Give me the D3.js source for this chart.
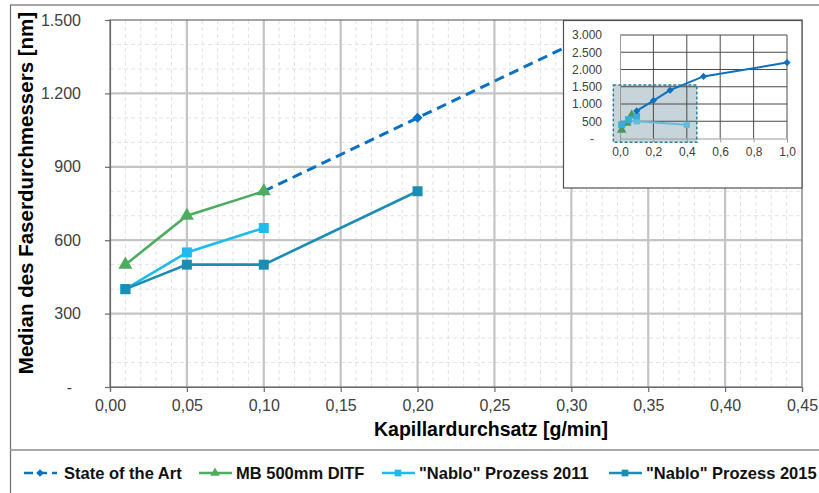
<!DOCTYPE html>
<html>
<head>
<meta charset="utf-8">
<script src="https://cdn.jsdelivr.net/npm/d3@7"></script>
<style>
  body { margin: 0; background: #fff; }
  svg { display: block; font-family: "Liberation Sans", Arial, sans-serif; }
</style>
</head>
<body>
<div id="chart"></div>
<script>
// Kapillardurchsatz [g/min] vs. median fibre diameter [nm]
var sotaX = [0.10, 0.20, 0.30, 0.50, 1.00];
var sotaY = [800, 1100, 1400, 1800, 2200];
var ditfX = [0.01, 0.05, 0.10];
var ditfY = [500, 700, 800];
var nablo11X = [0.01, 0.05, 0.10];
var nablo11Y = [400, 550, 650];
var nablo15X = [0.01, 0.05, 0.10, 0.20];
var nablo15Y = [400, 500, 500, 800];

// small overview plot (older data set)
var insetDitfX = [0.01, 0.04, 0.07];
var insetDitfY = [250, 450, 680];
var insetNablo15X = [0.01, 0.05, 0.10, 0.40];
var insetNablo15Y = [400, 500, 500, 400];

var xTicks = [0, 0.05, 0.10, 0.15, 0.20, 0.25, 0.30, 0.35, 0.40, 0.45];
var yTicks = [0, 300, 600, 900, 1200, 1500];
var insetXTicks = [0, 0.2, 0.4, 0.6, 0.8, 1.0];
var insetYTicks = [0, 500, 1000, 1500, 2000, 2500, 3000];
var zoomWindowX = [-0.04, 0.46];
var zoomWindowY = [-110, 1550];

var legendNames = ["State of the Art", "MB 500mm DITF", "\"Nablo\" Prozess 2011", "\"Nablo\" Prozess 2015"];
var legendPos = [40, 215, 398, 625];

var colors = {
    sota: "#0a70c2",
    ditf: "#4dac5e",
    nablo11: "#1fbbec",
    nablo15: "#1b8db3"
};

var de = d3.formatLocale({ decimal: ",", thousands: ".", grouping: [3], currency: ["", "\u20ac"] });
var fmtX = de.format(".2f");
var fmtY = function (d) { return d === 0 ? "-" : de.format(",")(d); };

var width = 819, height = 493;
var plot = { left: 110, right: 802, top: 20, bottom: 387 };

var svg = d3.select("#chart").append("svg")
    .attr("width", width)
    .attr("height", height);

// outer frame
svg.append("line").attr("x1", 10).attr("x2", width).attr("y1", 5).attr("y2", 5)
    .attr("stroke", "#a6a6a6").attr("stroke-width", 2);
svg.append("line").attr("x1", 10.5).attr("x2", 10.5).attr("y1", 5).attr("y2", height)
    .attr("stroke", "#707070").attr("stroke-width", 1.2);
svg.append("line").attr("x1", 10).attr("x2", width).attr("y1", 450).attr("y2", 450)
    .attr("stroke", "#8c8c8c").attr("stroke-width", 1.5);

var x = d3.scaleLinear().domain([0, 0.45]).range([plot.left, plot.right]);
var y = d3.scaleLinear().domain([0, 1500]).range([plot.bottom, plot.top]);

// minor grid
svg.append("g").selectAll("line")
    .data(d3.range(1, 45).map(function (i) { return i / 100; }))
    .enter().append("line")
    .attr("x1", function (d) { return x(d); }).attr("x2", function (d) { return x(d); })
    .attr("y1", plot.top).attr("y2", plot.bottom)
    .attr("stroke", "#e3e3e3").attr("stroke-width", 1).attr("stroke-dasharray", "4,3");
svg.append("g").selectAll("line")
    .data(d3.range(100, 1500, 100))
    .enter().append("line")
    .attr("x1", plot.left).attr("x2", plot.right)
    .attr("y1", function (d) { return y(d); }).attr("y2", function (d) { return y(d); })
    .attr("stroke", "#e3e3e3").attr("stroke-width", 1).attr("stroke-dasharray", "4,3");

// major grid
svg.append("g").selectAll("line")
    .data(xTicks.slice(1, -1))
    .enter().append("line")
    .attr("x1", function (d) { return x(d); }).attr("x2", function (d) { return x(d); })
    .attr("y1", plot.top).attr("y2", plot.bottom)
    .attr("stroke", "#c4c4c4").attr("stroke-width", 2.2);
svg.append("g").selectAll("line")
    .data(yTicks.slice(1, -1))
    .enter().append("line")
    .attr("x1", plot.left).attr("x2", plot.right)
    .attr("y1", function (d) { return y(d); }).attr("y2", function (d) { return y(d); })
    .attr("stroke", "#c4c4c4").attr("stroke-width", 2.2);

svg.append("rect")
    .attr("x", plot.left).attr("y", plot.top)
    .attr("width", plot.right - plot.left).attr("height", plot.bottom - plot.top)
    .attr("fill", "none").attr("stroke", "#6a6a6a").attr("stroke-width", 1.2);

// axes
var xAxis = svg.append("g")
    .attr("transform", "translate(0," + plot.bottom + ")")
    .call(d3.axisBottom(x).tickValues(xTicks).tickFormat(fmtX).tickSize(5).tickPadding(8));
var yAxis = svg.append("g")
    .attr("transform", "translate(" + plot.left + ",0)")
    .call(d3.axisLeft(y).tickValues(yTicks).tickFormat(fmtY).tickSize(5).tickPadding(24));
[xAxis, yAxis].forEach(function (a) {
    a.select(".domain").attr("stroke", "#6a6a6a").attr("stroke-width", 1.2);
    a.selectAll(".tick line").attr("stroke", "#6a6a6a").attr("stroke-width", 1.2);
    a.selectAll("text").attr("fill", "#404040").style("font-size", "16px")
        .style("font-family", "'Liberation Sans', Arial, sans-serif");
});
yAxis.selectAll(".tick text").filter(function (d) { return d === 0; }).attr("dx", "-9");

svg.append("text")
    .attr("x", 491).attr("y", 436)
    .attr("text-anchor", "middle")
    .style("font-size", "19.5px").style("font-weight", "bold")
    .text("Kapillardurchsatz [g/min]");
svg.append("text")
    .attr("transform", "translate(33,193) rotate(-90)")
    .attr("text-anchor", "middle")
    .style("font-size", "20.5px").style("font-weight", "bold")
    .text("Median des Faserdurchmessers [nm]");

// series
svg.append("clipPath").attr("id", "plot-clip")
    .append("rect")
    .attr("x", plot.left).attr("y", plot.top)
    .attr("width", plot.right - plot.left).attr("height", plot.bottom - plot.top);

var symDiamond = function (s) { return d3.symbol().type(d3.symbolSquare).size(s)(); };
var symSquare = function (s) { return d3.symbol().type(d3.symbolSquare).size(s)(); };
var symTriangle = function (s) { return d3.symbol().type(d3.symbolTriangle).size(s)(); };

function drawSeries(g, xs, ys, sx, sy, opt) {
    var pts = xs.map(function (d, i) { return [d, ys[i]]; });
    var line = d3.line().x(function (d) { return sx(d[0]); }).y(function (d) { return sy(d[1]); });
    g.append("path")
        .datum(pts)
        .attr("d", line)
        .attr("fill", "none")
        .attr("stroke", opt.color)
        .attr("stroke-width", opt.width)
        .attr("stroke-dasharray", opt.dash || null);
    g.selectAll(null)
        .data(pts)
        .enter().append("path")
        .attr("d", opt.symbol)
        .attr("transform", function (d) {
            return "translate(" + sx(d[0]) + "," + sy(d[1]) + ")" + (opt.rotate ? " rotate(45)" : "");
        })
        .attr("fill", opt.color);
}

var series = svg.append("g").attr("clip-path", "url(#plot-clip)");
drawSeries(series, sotaX, sotaY, x, y, { color: colors.sota, width: 3, dash: "10,6", symbol: symDiamond(50), rotate: true });
drawSeries(series, ditfX, ditfY, x, y, { color: colors.ditf, width: 2.6, symbol: symTriangle(85) });
drawSeries(series, nablo11X, nablo11Y, x, y, { color: colors.nablo11, width: 2.6, symbol: symSquare(100) });
drawSeries(series, nablo15X, nablo15Y, x, y, { color: colors.nablo15, width: 2.6, symbol: symSquare(100) });

// overview inset
var inset = svg.append("g");
inset.append("rect")
    .attr("x", 563.5).attr("y", 20.5).attr("width", 238.5).attr("height", 167.5)
    .attr("fill", "#fff").attr("stroke", "#505050").attr("stroke-width", 1.2);

var ix = d3.scaleLinear().domain([0, 1]).range([620, 787]);
var iy = d3.scaleLinear().domain([0, 3000]).range([138.5, 35]);

inset.append("rect")
    .attr("x", ix(zoomWindowX[0])).attr("y", iy(zoomWindowY[1]))
    .attr("width", ix(zoomWindowX[1]) - ix(zoomWindowX[0]))
    .attr("height", iy(zoomWindowY[0]) - iy(zoomWindowY[1]))
    .attr("fill", "#c7d4d9");

inset.append("g").selectAll("line")
    .data(insetXTicks.slice(1))
    .enter().append("line")
    .attr("x1", function (d) { return ix(d); }).attr("x2", function (d) { return ix(d); })
    .attr("y1", iy(3000)).attr("y2", iy(0))
    .attr("stroke", "#4a4a4a").attr("stroke-width", 1);
inset.append("g").selectAll("line")
    .data(insetYTicks.slice(1))
    .enter().append("line")
    .attr("x1", ix(0)).attr("x2", ix(1))
    .attr("y1", function (d) { return iy(d); }).attr("y2", function (d) { return iy(d); })
    .attr("stroke", "#4a4a4a").attr("stroke-width", 1);

var ixAxis = inset.append("g")
    .attr("transform", "translate(0," + iy(0) + ")")
    .call(d3.axisBottom(ix).tickValues(insetXTicks).tickFormat(de.format(".1f")).tickSize(4).tickPadding(5));
var iyAxis = inset.append("g")
    .attr("transform", "translate(" + ix(0) + ",0)")
    .call(d3.axisLeft(iy).tickValues(insetYTicks).tickFormat(fmtY).tickSize(0).tickPadding(18));
[ixAxis, iyAxis].forEach(function (a) {
    a.select(".domain").attr("stroke", "#9a9a9a");
    a.selectAll(".tick line").attr("stroke", "#9a9a9a");
    a.selectAll("text").attr("fill", "#404040").style("font-size", "12px")
        .style("font-family", "'Liberation Sans', Arial, sans-serif");
});
iyAxis.selectAll(".tick text").filter(function (d) { return d === 0; }).attr("dx", "-8");

drawSeries(inset, insetNablo15X, insetNablo15Y, ix, iy, { color: "#62bcda", width: 2, symbol: symSquare(40) });
drawSeries(inset, insetDitfX, insetDitfY, ix, iy, { color: "#4a9a60", width: 2, symbol: symTriangle(40) });
drawSeries(inset, nablo11X, nablo11Y, ix, iy, { color: "#36b0da", width: 2, symbol: symSquare(45) });
drawSeries(inset, sotaX, sotaY, ix, iy, { color: colors.sota, width: 2, symbol: symDiamond(25), rotate: true });

inset.append("rect")
    .attr("x", ix(zoomWindowX[0])).attr("y", iy(zoomWindowY[1]))
    .attr("width", ix(zoomWindowX[1]) - ix(zoomWindowX[0]))
    .attr("height", iy(zoomWindowY[0]) - iy(zoomWindowY[1]))
    .attr("fill", "none").attr("stroke", "#2f7f96").attr("stroke-width", 1.5)
    .attr("stroke-dasharray", "3,2");

// legend
var legendStyle = [
    { color: colors.sota, dash: "9,5", symbol: symDiamond(30), rotate: true },
    { color: colors.ditf, symbol: symTriangle(40) },
    { color: colors.nablo11, symbol: symSquare(45) },
    { color: colors.nablo15, symbol: symSquare(45) }
];
var legend = svg.append("g").attr("transform", "translate(0,473)");
var items = legend.selectAll("g")
    .data(legendNames)
    .enter().append("g")
    .attr("transform", function (d, i) { return "translate(" + legendPos[i] + ",0)"; });
items.append("line")
    .attr("x1", -16).attr("x2", 17)
    .attr("stroke", function (d, i) { return legendStyle[i].color; })
    .attr("stroke-width", 2.6)
    .attr("stroke-dasharray", function (d, i) { return legendStyle[i].dash || null; });
items.append("path")
    .attr("d", function (d, i) { return legendStyle[i].symbol; })
    .attr("transform", function (d, i) { return legendStyle[i].rotate ? "rotate(45)" : null; })
    .attr("fill", function (d, i) { return legendStyle[i].color; });
items.append("text")
    .attr("x", function (d, i) { return i === 0 ? 24 : 21; })
    .attr("y", 6)
    .style("font-size", "16.5px").style("font-weight", "bold")
    .attr("fill", "#111")
    .text(function (d) { return d; });
</script>
</body>
</html>
